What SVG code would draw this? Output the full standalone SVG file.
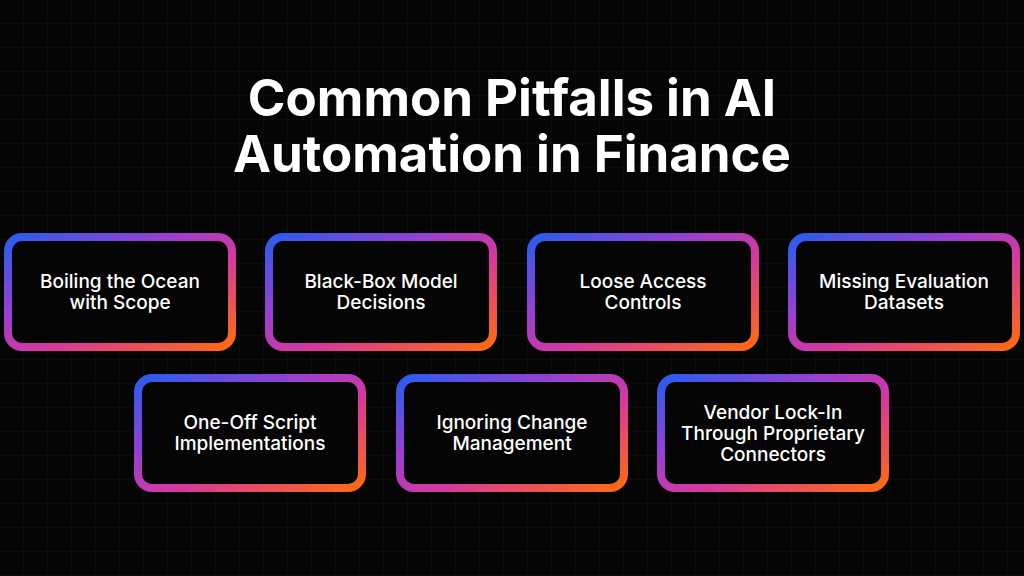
<svg xmlns="http://www.w3.org/2000/svg" width="1024" height="576" viewBox="0 0 1024 576">
<defs>
<linearGradient id="g" x1="0" y1="0" x2="1" y2="1">
<stop offset="0" stop-color="#2a5cf0"/>
<stop offset="0.35" stop-color="#9a3fd0"/>
<stop offset="0.6" stop-color="#d8389c"/>
<stop offset="1" stop-color="#ff6a12"/>
</linearGradient>
<pattern id="grid" width="24" height="24" patternUnits="userSpaceOnUse">
<path d="M24 0V24H0" fill="none" stroke="#121212" stroke-width="1"/>
</pattern>
</defs>
<style>
.box{fill:#050505;stroke:url(#g);stroke-width:8}
.t{font-family:Inter,"Noto Sans",sans-serif;font-weight:500;font-size:19px;fill:#fff;text-anchor:middle}
.h{font-family:Inter,"Noto Sans",sans-serif;font-weight:700;font-size:51px;fill:#fff;text-anchor:middle}
</style>
<rect width="1024" height="576" fill="#050505"/>
<rect width="1024" height="576" fill="url(#grid)"/>
<text class="h" x="512" y="116">Common Pitfalls in AI</text>
<text class="h" x="512" y="172">Automation in Finance</text>
<g id="n1"><rect class="box" x="8" y="237" width="224" height="110" rx="14"/><text class="t" x="120" y="288">Boiling the Ocean</text><text class="t" x="120" y="309">with Scope</text></g>
<g id="n2"><rect class="box" x="269" y="237" width="224" height="110" rx="14"/><text class="t" x="381" y="288">Black-Box Model</text><text class="t" x="381" y="309">Decisions</text></g>
<g id="n3"><rect class="box" x="531" y="237" width="224" height="110" rx="14"/><text class="t" x="643" y="288">Loose Access</text><text class="t" x="643" y="309">Controls</text></g>
<g id="n4"><rect class="box" x="792" y="237" width="224" height="110" rx="14"/><text class="t" x="904" y="288">Missing Evaluation</text><text class="t" x="904" y="309">Datasets</text></g>
<g id="n5"><rect class="box" x="138" y="378" width="224" height="110" rx="14"/><text class="t" x="250" y="429">One-Off Script</text><text class="t" x="250" y="450">Implementations</text></g>
<g id="n6"><rect class="box" x="400" y="378" width="224" height="110" rx="14"/><text class="t" x="512" y="429">Ignoring Change</text><text class="t" x="512" y="450">Management</text></g>
<g id="n7"><rect class="box" x="661" y="378" width="224" height="110" rx="14"/><text class="t" x="773" y="419">Vendor Lock-In</text><text class="t" x="773" y="440">Through Proprietary</text><text class="t" x="773" y="461">Connectors</text></g>
<g id="connectors"/>
</svg>
